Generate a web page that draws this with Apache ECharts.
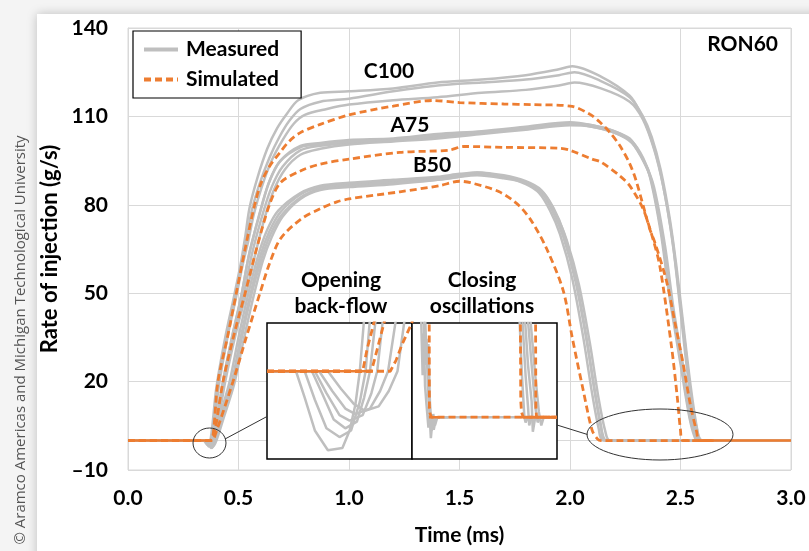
<!DOCTYPE html>
<html>
<head>
<meta charset="utf-8">
<script src="https://cdn.jsdelivr.net/npm/echarts@6/dist/echarts.min.js"></script>
<style>
  html, body { margin: 0; padding: 0; background: #f4f4f4; }
  #main { width: 809px; height: 551px; }
</style>
</head>
<body>
<div id="main"></div>
<script>
// axis ticks
const xTicks = [0, 0.5, 1.0, 1.5, 2.0, 2.5, 3.0];
const yTicks = [-10, 20, 50, 80, 110, 140];

// measured traces (g/s vs ms)
const c100M1 = [[0,0],[0.34,0],[0.36,-1.5],[0.375,1],[0.40,18],[0.44,35],[0.48,49],[0.51,60],[0.53,69],[0.55,79],[0.585,89],[0.63,99],[0.675,106],[0.72,111],[0.77,115.5],[0.87,118],[1.0,118.5],[1.2,119.5],[1.4,121.5],[1.6,122.5],[1.8,124],[1.95,126],[2.01,127],[2.14,123.5],[2.27,117],[2.32,111],[2.36,104],[2.40,94],[2.44,79],[2.47,64],[2.50,44],[2.535,21],[2.57,5],[2.59,0],[3.0,0]];
const c100M2 = [[0,0],[0.345,0],[0.365,-1.5],[0.38,1],[0.405,18],[0.445,35],[0.485,49],[0.515,60],[0.535,68],[0.56,78],[0.595,87],[0.64,96],[0.685,103],[0.73,108.5],[0.78,112.5],[0.87,115],[1.0,116],[1.2,118.5],[1.4,120.5],[1.6,121.5],[1.8,122.5],[1.95,124],[2.02,125],[2.14,122],[2.27,116.5],[2.33,110],[2.37,103],[2.41,92],[2.45,76],[2.48,60],[2.51,41],[2.545,19],[2.575,4],[2.595,0],[3.0,0]];
const c100M3 = [[0,0],[0.35,0],[0.37,-1],[0.385,1],[0.41,18],[0.45,35],[0.49,49],[0.52,60],[0.545,68],[0.57,77],[0.605,86],[0.65,95],[0.70,102],[0.75,107.5],[0.80,110.5],[0.9,112.5],[1.0,114],[1.2,115.5],[1.4,116.5],[1.6,118],[1.8,119],[1.95,120.5],[2.02,121.5],[2.14,119.5],[2.27,115],[2.33,109],[2.38,99],[2.42,87],[2.46,70],[2.49,52],[2.52,33],[2.55,14],[2.58,2],[2.60,0],[3.0,0]];
const a75M1 = [[0,0],[0.35,0],[0.365,-2],[0.385,1],[0.43,20],[0.47,35],[0.515,50],[0.55,64],[0.60,78],[0.64,88],[0.69,95],[0.78,100],[0.87,101],[1.0,102],[1.2,102.5],[1.4,104],[1.6,105],[1.8,106.5],[2.0,108],[2.1,107],[2.2,105],[2.27,102.5],[2.32,97],[2.36,90],[2.41,71],[2.45,49],[2.50,26],[2.54,8],[2.565,1],[2.58,0],[3.0,0]];
const a75M2 = [[0,0],[0.355,0],[0.37,-2],[0.39,1],[0.435,20],[0.48,36],[0.525,50],[0.56,63],[0.61,77],[0.65,86],[0.70,93],[0.78,98.5],[0.87,100],[1.0,101],[1.2,102],[1.4,103],[1.6,104.5],[1.8,106],[2.0,107.5],[2.1,106.5],[2.2,104.5],[2.28,101.5],[2.33,96],[2.37,88],[2.42,69],[2.46,47],[2.51,24],[2.55,7],[2.57,1],[2.59,0],[3.0,0]];
const a75M3 = [[0,0],[0.36,0],[0.375,-2.5],[0.395,1],[0.44,20],[0.49,37],[0.535,50],[0.575,63],[0.62,76],[0.66,85],[0.71,92],[0.78,97],[0.87,99],[1.0,100.5],[1.2,101.5],[1.4,102.5],[1.6,104],[1.8,105.5],[2.0,107],[2.1,106.5],[2.2,104.5],[2.28,101],[2.34,94],[2.38,86],[2.43,66],[2.47,44],[2.52,22],[2.56,6],[2.58,1],[2.60,0],[3.0,0]];
const a75M4 = [[0,0],[0.35,0],[0.37,-1.5],[0.39,1],[0.425,18],[0.465,33],[0.51,48],[0.545,62],[0.595,77],[0.635,87],[0.685,94.5],[0.78,99.5],[0.87,100.5],[1.0,101.5],[1.2,102],[1.4,103.5],[1.6,104.5],[1.8,106],[2.0,107.5],[2.1,107],[2.2,105],[2.27,102],[2.32,96.5],[2.365,89],[2.415,70],[2.455,48],[2.505,25],[2.545,7],[2.57,1],[2.585,0],[3.0,0]];
const b50M1 = [[0,0],[0.36,0],[0.375,-2],[0.39,0],[0.42,8],[0.47,20],[0.51,35],[0.555,50],[0.60,63],[0.64,71],[0.69,77.5],[0.78,83.5],[0.87,86],[1.0,87],[1.2,88],[1.4,89],[1.5,90],[1.58,91],[1.7,89.5],[1.80,87],[1.86,84],[1.91,78],[1.955,70],[2.01,55],[2.06,35],[2.10,16],[2.13,4],[2.15,0],[3.0,0]];
const b50M2 = [[0,0],[0.365,0],[0.38,-2.5],[0.395,0],[0.425,8],[0.475,20],[0.515,35],[0.56,50],[0.605,62],[0.645,70],[0.695,76.5],[0.78,82.5],[0.87,85.5],[1.0,86.5],[1.2,87.5],[1.4,88.5],[1.5,89.5],[1.58,90.5],[1.7,89.5],[1.80,87.5],[1.87,84],[1.92,78],[1.97,69],[2.025,54],[2.075,34],[2.115,15],[2.145,3],[2.165,0],[3.0,0]];
const b50M3 = [[0,0],[0.37,0],[0.385,-2],[0.40,0],[0.43,7],[0.48,19],[0.52,33],[0.565,48],[0.61,61],[0.65,69],[0.70,76],[0.78,82],[0.87,85],[1.0,86],[1.2,87],[1.4,88.5],[1.5,89.5],[1.58,90],[1.7,89],[1.80,87.5],[1.88,84],[1.935,77],[1.985,68],[2.04,53],[2.09,33],[2.13,14],[2.16,3],[2.18,0],[3.0,0]];
const b50M4 = [[0,0],[0.36,0],[0.375,-1.5],[0.39,0],[0.415,8],[0.46,20],[0.50,35],[0.545,50],[0.59,63],[0.63,71.5],[0.68,78],[0.78,84],[0.87,86.5],[1.0,87.5],[1.2,88.5],[1.4,89.5],[1.5,90.5],[1.58,91],[1.7,90],[1.80,88],[1.87,85],[1.925,79],[1.97,71],[2.02,57],[2.07,37],[2.11,18],[2.14,5],[2.16,0],[3.0,0]];

// simulated traces
const c100Sim = [[0,0],[0.37,0],[0.385,2],[0.407,20],[0.45,35],[0.49,50],[0.53,65],[0.57,79],[0.60,87],[0.64,93],[0.69,98],[0.73,101.6],[0.78,104.5],[0.87,107.3],[1.0,110.5],[1.2,113.5],[1.38,115.4],[1.5,114.7],[1.7,114.2],[1.83,114],[2.01,113.4],[2.09,110.7],[2.136,108],[2.18,104.6],[2.226,100],[2.27,94],[2.30,88],[2.36,72],[2.385,67],[2.437,54],[2.475,40],[2.512,26],[2.545,12],[2.573,3],[2.585,0],[2.65,0]];
const a75Sim = [[0,0],[0.375,0],[0.39,2],[0.43,20],[0.48,36],[0.53,50],[0.585,66],[0.64,80],[0.69,87.5],[0.78,91.5],[0.87,93.8],[1.0,95.5],[1.23,97.8],[1.45,98.5],[1.52,99.8],[1.7,99.5],[1.955,99.2],[2.0,98.5],[2.10,95.5],[2.14,94.5],[2.226,89.8],[2.27,86.5],[2.33,78.7],[2.375,68.5],[2.407,59],[2.46,31.5],[2.485,15],[2.50,3.5],[2.51,0],[2.65,0]];
const b50Sim = [[0,0],[0.38,0],[0.395,2],[0.475,20],[0.535,35],[0.597,50],[0.64,60],[0.69,68.5],[0.78,75],[0.87,78.7],[0.945,81],[1.0,82],[1.23,84.4],[1.41,86.5],[1.5,88],[1.55,87.5],[1.68,84.4],[1.77,79.7],[1.83,74],[1.895,65],[1.97,50.7],[2.01,35],[2.06,17],[2.10,3.5],[2.125,0.5],[2.14,0],[2.65,0]];
const simBaseStart = [[0,0],[0.37,0]];
const simBaseEnd = [[2.58,0],[3.0,0]];

// inset 1: opening back-flow (zoomed)
const openM = [
  [[0.30,0],[0.320,0],[0.326,-1.2],[0.333,-2.7],[0.342,-3.6],[0.352,-3.5],[0.357,-2.7],[0.361,-1.5],[0.364,0],[0.367,2.4]],
  [[0.30,0],[0.326,0],[0.333,-1.3],[0.341,-2.6],[0.350,-3.0],[0.358,-2.7],[0.364,-1.4],[0.368,0],[0.371,2.4]],
  [[0.30,0],[0.331,0],[0.338,-1.0],[0.346,-2.2],[0.354,-2.6],[0.362,-2.3],[0.367,-1.2],[0.371,0],[0.375,2.4]],
  [[0.30,0],[0.333,0],[0.341,-1.0],[0.350,-2.0],[0.357,-2.25],[0.366,-2.0],[0.372,-1.0],[0.376,0],[0.380,2.4]],
  [[0.30,0],[0.336,0],[0.345,-0.9],[0.354,-1.7],[0.361,-1.95],[0.371,-1.7],[0.378,-0.9],[0.3835,0],[0.389,2.4]],
  [[0.30,0],[0.342,0],[0.351,-0.8],[0.360,-1.5],[0.3676,-1.8],[0.377,-1.6],[0.384,-0.9],[0.390,0],[0.395,2.4]]
];
const openSim = [
  [[0.30,0],[0.366,0],[0.369,1],[0.3745,2.4]],
  [[0.30,0],[0.372,0],[0.376,1],[0.3815,2.4]],
  [[0.30,0],[0.385,0],[0.389,0.5],[0.393,1.2],[0.3985,2.0],[0.401,2.4]]
];
const openSimBase = [[0.30,0],[0.370,0]];

// inset 2: closing oscillations (zoomed)
const closeM = [
  [[2.085,12],[2.094,4.0],[2.099,8],[2.104,3],[2.110,1.2],[2.118,-1.0],[2.124,0.2],[2.13,-0.4],[2.14,0],[2.50,0]],
  [[2.095,12],[2.104,5],[2.110,7.5],[2.116,2.5],[2.122,0.6],[2.128,-2.0],[2.134,-0.5],[2.14,-1.2],[2.15,0],[2.20,0]],
  [[2.10,12],[2.112,5],[2.118,7],[2.124,1.5],[2.132,-1.3],[2.138,0.3],[2.145,-0.8],[2.155,0],[2.20,0]],
  [[2.49,12],[2.505,4],[2.51,2],[2.515,0],[2.52,-0.5],[2.53,0],[2.65,0]],
  [[2.50,12],[2.52,4],[2.53,1],[2.535,-0.8],[2.545,0],[2.65,0]],
  [[2.51,12],[2.53,5],[2.545,1.5],[2.55,-1.4],[2.56,0],[2.65,0]],
  [[2.52,12],[2.545,5],[2.56,1],[2.57,-0.5],[2.58,0],[2.65,0]],
  [[2.53,12],[2.56,4],[2.575,0.5],[2.585,-0.8],[2.595,0],[2.65,0]]
];
const closeSim = [
  [[2.121,12],[2.122,0.9],[2.124,0.4],[2.13,0],[2.65,0]],
  [[2.498,12],[2.500,1.6],[2.503,0.5],[2.51,0],[2.65,0]],
  [[2.561,12],[2.5625,1.0],[2.565,0],[2.65,0]]
];
const closeSimBase = [[[2.12,0],[2.165,0]], [[2.50,0],[2.65,0]]];

const GRAY = '#bfbfbf';
const ORANGE = '#ed7d31';
const FONT = 'Lato';

function line(name, data, grid, color, dashed, z) {
  return {
    name: name,
    type: 'line',
    xAxisIndex: grid,
    yAxisIndex: grid,
    data: data,
    symbol: 'none',
    smooth: grid === 0 ? 0.3 : false,
    z: z,
    silent: true,
    lineStyle: { color: color, width: dashed ? 2.8 : 2.5, type: dashed ? [7, 4] : 'solid' },
    itemStyle: { color: color }
  };
}

const series = [];
[c100M1, c100M2, c100M3, a75M1, a75M2, a75M3, a75M4, b50M1, b50M2, b50M3, b50M4].forEach(d => series.push(line('Measured', d, 0, GRAY, false, 2)));
[c100Sim, a75Sim, b50Sim].forEach(d => series.push(line('Simulated', d, 0, ORANGE, true, 3)));
[simBaseStart, simBaseEnd].forEach(d => series.push(line('Simulated base', d, 0, ORANGE, false, 3)));
openM.forEach(d => series.push(line('Measured', d, 1, GRAY, false, 5)));
openSim.forEach(d => series.push(line('Simulated', d, 1, ORANGE, true, 6)));
series.push(line('Simulated base', openSimBase, 1, ORANGE, false, 6));
closeM.forEach(d => series.push(line('Measured', d, 2, GRAY, false, 5)));
closeSim.forEach(d => series.push(line('Simulated', d, 2, ORANGE, true, 6)));
closeSimBase.forEach(d => series.push(line('Simulated base', d, 2, ORANGE, false, 6)));

const chart = echarts.init(document.getElementById('main'));

const labelText = (t, x, y, align) => ({
  type: 'text', x: x, y: y, z: 10,
  style: { text: t, fill: '#000', font: 'bold 21px ' + FONT, textAlign: align || 'center', textVerticalAlign: 'middle' }
});

const option = {
  backgroundColor: '#f4f4f4',
  animation: false,
  legend: {
    data: ['Measured', 'Simulated'],
    orient: 'vertical',
    left: 133, top: 31,
    padding: [8, 22, 8, 9],
    itemGap: 9,
    itemWidth: 34, itemHeight: 14,
    itemStyle: { opacity: 0 },
    lineStyle: { width: 4 },
    borderColor: '#000', borderWidth: 1.2,
    backgroundColor: '#fff',
    textStyle: { fontFamily: FONT, fontWeight: 'bold', fontSize: 21, color: '#000', padding: [0, 0, 0, 3] }
  },
  grid: [
    { left: 128, top: 28, width: 663, height: 445, show: true, borderColor: '#d9d9d9', borderWidth: 1 },
    { left: 267, top: 323, width: 145, height: 136, show: true, backgroundColor: '#fff', borderColor: '#000', borderWidth: 1.5, z: 4 },
    { left: 412, top: 323, width: 145, height: 136, show: true, backgroundColor: '#fff', borderColor: '#000', borderWidth: 1.5, z: 4 }
  ],
  xAxis: [
    {
      type: 'value', min: xTicks[0], max: xTicks[xTicks.length - 1], interval: 0.5,
      name: 'Time (ms)', nameLocation: 'middle', nameGap: 55,
      nameTextStyle: { fontFamily: FONT, fontWeight: 'bold', fontSize: 21, color: '#000' },
      axisLine: { lineStyle: { color: '#d9d9d9' } },
      axisTick: { show: false },
      splitLine: { lineStyle: { color: '#d9d9d9' } },
      axisLabel: { margin: 18, fontFamily: FONT, fontWeight: 'bold', fontSize: 21, color: '#000', formatter: v => v.toFixed(1) }
    },
    { gridIndex: 1, type: 'value', min: 0.30, max: 0.40, show: false },
    { gridIndex: 2, type: 'value', min: 2.05, max: 2.65, show: false }
  ],
  yAxis: [
    {
      type: 'value', min: yTicks[0], max: yTicks[yTicks.length - 1], interval: 30,
      name: 'Rate of injection (g/s)', nameLocation: 'middle', nameGap: 60,
      nameTextStyle: { fontFamily: FONT, fontWeight: 'bold', fontSize: 22, color: '#000' },
      axisLine: { show: true, lineStyle: { color: '#d9d9d9' } },
      axisTick: { show: false },
      splitLine: { lineStyle: { color: '#d9d9d9' } },
      axisLabel: { margin: 20, fontFamily: FONT, fontWeight: 'bold', fontSize: 21, color: '#000', formatter: v => v < 0 ? '\u2013' + Math.abs(v) : String(v) }
    },
    { gridIndex: 1, type: 'value', min: -4, max: 2.2, show: false },
    { gridIndex: 2, type: 'value', min: -4, max: 9, show: false }
  ],
  graphic: [
    {
      type: 'rect', z: -10, silent: true,
      shape: { x: 37, y: 14, width: 800, height: 560 },
      style: { fill: '#fff', shadowBlur: 10, shadowColor: 'rgba(0,0,0,0.22)' }
    },
    {
      type: 'text', x: 21, y: 340, rotation: Math.PI / 2, z: 10,
      style: { text: '\u00a9 Aramco Americas and Michigan Technological University', fill: '#555', font: '15px "Open Sans"', textAlign: 'center', textVerticalAlign: 'middle' }
    },
    labelText('C100', 389, 71),
    labelText('A75', 410, 125),
    labelText('B50', 432, 165),
    labelText('RON60', 778, 44, 'right'),
    {
      type: 'text', x: 341, y: 293.5, z: 10,
      style: { text: 'Opening\nback-flow', fill: '#000', font: 'bold 21px ' + FONT, lineHeight: 26, textAlign: 'center', textVerticalAlign: 'middle' }
    },
    {
      type: 'text', x: 482, y: 293.5, z: 10,
      style: { text: 'Closing\noscillations', fill: '#000', font: 'bold 21px ' + FONT, lineHeight: 26, textAlign: 'center', textVerticalAlign: 'middle' }
    },
    { type: 'ellipse', z: 10, shape: { cx: 209.5, cy: 443, rx: 16.5, ry: 15 }, style: { fill: 'none', stroke: '#333', lineWidth: 1 } },
    { type: 'ellipse', z: 10, shape: { cx: 660, cy: 434.5, rx: 73, ry: 25.5 }, style: { fill: 'none', stroke: '#333', lineWidth: 1 } },
    { type: 'line', z: 10, shape: { x1: 225, y1: 439, x2: 267, y2: 416.5 }, style: { stroke: '#333', lineWidth: 1 } },
    { type: 'line', z: 10, shape: { x1: 557, y1: 425, x2: 587.5, y2: 434.5 }, style: { stroke: '#333', lineWidth: 1 } }
  ],
  series: series
};

chart.setOption(option);
</script>
</body>
</html>
